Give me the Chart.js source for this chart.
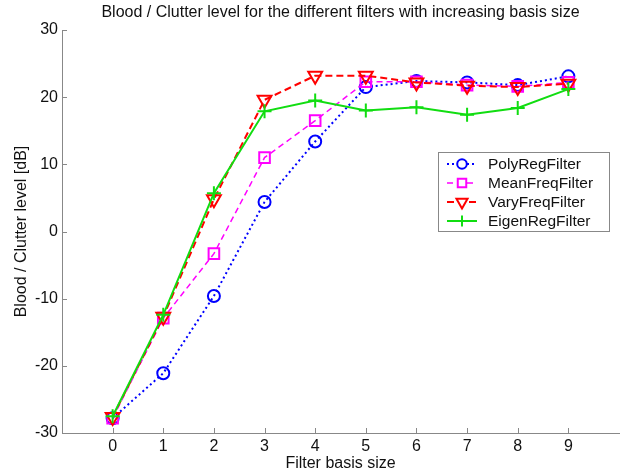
<!DOCTYPE html>
<html>
<head>
<meta charset="utf-8">
<script src="https://cdn.jsdelivr.net/npm/chart.js@4"></script>
<style>
  body { margin: 0; background: #fff; }
  canvas { display: block; }
</style>
</head>
<body>
<canvas id="myChart" width="629" height="474"></canvas>
<script>
const basisSizes = [0, 1, 2, 3, 4, 5, 6, 7, 8, 9];
const polyReg = [-27.8, -21.1, -9.6, 4.4, 13.4, 21.5, 22.4, 22.2, 21.8, 23.1];
const meanFreq = [-27.8, -12.9, -3.3, 11.0, 16.5, 22.3, 22.3, 21.8, 21.6, 22.2];
const varyFreq = [-27.6, -12.7, 4.8, 19.6, 23.2, 23.2, 22.2, 21.7, 21.5, 22.0];
const eigenReg = [-27.5, -12.4, 5.7, 17.9, 19.5, 18.0, 18.5, 17.4, 18.4, 21.2];
const yTicks = [-30, -20, -10, 0, 10, 20, 30];

const font = 'Arial, "Liberation Sans", sans-serif';
const toPoints = vals => vals.map((v, i) => ({x: basisSizes[i], y: v}));

const series = [
	{label: 'PolyRegFilter', data: polyReg, color: '#0000ff', dash: [2, 3], width: 2, style: 'circle', radius: 6, rot: 0, order: 4},
	{label: 'MeanFreqFilter', data: meanFreq, color: '#ff00ff', dash: [6, 4], width: 1.5, style: 'rect', radius: 7.5, rot: 0, order: 3},
	{label: 'VaryFreqFilter', data: varyFreq, color: '#ff0000', dash: [7, 4], width: 2, style: 'triangle', radius: 8, rot: 180, order: 2},
	{label: 'EigenRegFilter', data: eigenReg, color: '#11dd11', dash: [], width: 2, style: 'cross', radius: 7, rot: 0, order: 1}
];

// title, inward ticks and the boxed legend inside the plot
const extras = {
	id: 'extras',
	afterDraw(chart) {
		const ctx = chart.ctx;
		const xs = chart.scales.x, ys = chart.scales.y;
		const area = chart.chartArea;
		ctx.save();
		ctx.fillStyle = '#111';
		ctx.font = '16px ' + font;
		ctx.textAlign = 'center';
		ctx.textBaseline = 'middle';
		ctx.fillText('Blood / Clutter level for the different filters with increasing basis size', (area.left + area.right) / 2, 13);

		ctx.strokeStyle = '#888';
		ctx.lineWidth = 1;
		ctx.beginPath();
		basisSizes.forEach(v => {
			const px = Math.round(xs.getPixelForValue(v)) + 0.5;
			ctx.moveTo(px, area.bottom);
			ctx.lineTo(px, area.bottom - 5);
		});
		yTicks.forEach(v => {
			const py = Math.round(ys.getPixelForValue(v)) + 0.5;
			ctx.moveTo(area.left, py);
			ctx.lineTo(area.left + 5, py);
		});
		ctx.stroke();

		// legend
		const bx = 438.5, by = 152.5, bw = 171, bh = 79;
		ctx.fillStyle = '#fff';
		ctx.fillRect(bx, by, bw, bh);
		ctx.strokeStyle = '#888';
		ctx.strokeRect(bx, by, bw, bh);
		series.forEach((s, i) => {
			const y = 164 + i * 19;
			ctx.strokeStyle = s.color;
			ctx.lineWidth = s.width;
			ctx.setLineDash(s.dash);
			ctx.beginPath();
			ctx.moveTo(447, y);
			ctx.lineTo(477, y);
			ctx.stroke();
			ctx.setLineDash([]);
			ctx.lineWidth = 2;
			ctx.fillStyle = '#fff';
			Chart.helpers.drawPoint(ctx, {pointStyle: s.style, radius: s.radius * 0.8, rotation: s.rot, borderWidth: 2}, 462, y);
			ctx.fillStyle = '#111';
			ctx.font = '15.5px ' + font;
			ctx.textAlign = 'left';
			ctx.fillText(s.label, 488, y + 1);
		});
		ctx.restore();
	}
};

const data = {
	datasets: series.map(s => ({
		label: s.label,
		data: toPoints(s.data),
		borderColor: s.color,
		backgroundColor: 'rgba(0,0,0,0)',
		borderWidth: s.width,
		borderDash: s.dash,
		pointStyle: s.style,
		pointRadius: s.radius,
		pointRotation: s.rot,
		pointBorderWidth: 2,
		pointBorderColor: s.color,
		pointBackgroundColor: 'rgba(0,0,0,0)',
		tension: 0,
		order: s.order
	}))
};

const options = {
	responsive: false,
	animation: false,
	layout: {padding: {top: 30, right: 6, left: 0, bottom: 0}},
	plugins: {legend: {display: false}, tooltip: {enabled: false}},
	scales: {
		x: {
			type: 'linear', min: -1, max: 10,
			afterFit: s => { s.height = 41; },
			grid: {display: true, drawOnChartArea: false, drawTicks: false},
			border: {display: true, color: '#888'},
			ticks: {
				stepSize: 1, padding: 4, color: '#111', font: {size: 16, family: font},
				callback: v => (v < 0 || v > 9) ? '' : v
			},
			title: {display: true, text: 'Filter basis size', color: '#111', font: {size: 16, family: font}, padding: {top: 0, bottom: 1}}
		},
		y: {
			min: -30, max: 30,
			afterFit: s => { s.width = 62; },
			grid: {display: true, drawOnChartArea: false, drawTicks: false},
			border: {display: true, color: '#888'},
			ticks: {stepSize: 10, padding: 4, color: '#111', font: {size: 16, family: font}},
			title: {display: true, text: 'Blood / Clutter level [dB]', color: '#111', font: {size: 16, family: font}, padding: {top: 12, bottom: 0}}
		}
	}
};

const ctx = document.getElementById('myChart').getContext('2d');
const myChart = new Chart(ctx, {type: 'line', data, options, plugins: [extras]});
</script>
</body>
</html>
